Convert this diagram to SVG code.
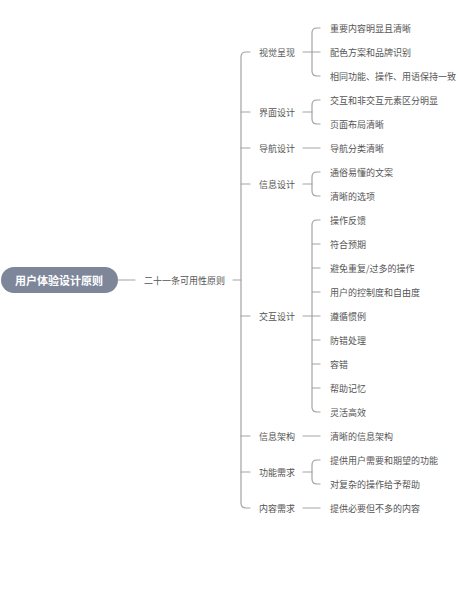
<svg xmlns="http://www.w3.org/2000/svg" width="458" height="600" viewBox="0 0 458 600">
<style>
.t{font-family:"Noto Sans CJK SC","Noto Sans",sans-serif;font-size:9px;fill:#555;dominant-baseline:central}
.r{font-family:"Noto Sans CJK SC","Noto Sans",sans-serif;font-size:11px;font-weight:bold;fill:#fff;dominant-baseline:central;text-anchor:middle}
.c{fill:none;stroke:#a3a3a3;stroke-width:1.2;stroke-linecap:round}
</style>
<rect width="458" height="600" fill="#fff"/>
<g id="connectors">
<path class="c" d="M118,280 H135"/>
<path class="c" d="M233,280 H241"/>
<path class="c" d="M250,52 H246 Q241,52 241,57 V503 Q241,508 246,508 H250"/>
<path class="c" d="M241,112 H250 M241,148 H250 M241,184 H250 M241,316 H250 M241,436 H250 M241,472 H250"/>
<!-- 视觉呈现 -->
<path class="c" d="M303,52 H312"/>
<path class="c" d="M320,28 H317 Q312,28 312,33 V71 Q312,76 317,76 H320 M312,52 H320"/>
<!-- 界面设计 -->
<path class="c" d="M303,112 H312"/>
<path class="c" d="M320,100 H317 Q312,100 312,105 V119 Q312,124 317,124 H320"/>
<!-- 导航设计 -->
<path class="c" d="M303,148 H320"/>
<!-- 信息设计 -->
<path class="c" d="M303,184 H312"/>
<path class="c" d="M320,172 H317 Q312,172 312,177 V191 Q312,196 317,196 H320"/>
<!-- 交互设计 -->
<path class="c" d="M303,316 H312"/>
<path class="c" d="M320,220 H317 Q312,220 312,225 V407 Q312,412 317,412 H320 M312,244 H320 M312,268 H320 M312,292 H320 M312,316 H320 M312,340 H320 M312,364 H320 M312,388 H320"/>
<!-- 信息架构 -->
<path class="c" d="M303,436 H320"/>
<!-- 功能需求 -->
<path class="c" d="M303,472 H312"/>
<path class="c" d="M320,460 H317 Q312,460 312,465 V479 Q312,484 317,484 H320"/>
<!-- 内容需求 -->
<path class="c" d="M303,508 H320"/>
</g>
<g id="root"><rect x="1" y="267" width="117" height="26" rx="13" fill="#7d8799"/><text class="r" x="59" y="280">用户体验设计原则</text></g>
<g id="n1"><text class="t" x="144" y="280">二十一条可用性原则</text></g>
<g id="v"><text class="t" x="259" y="52">视觉呈现</text></g>
<g id="v1"><text class="t" x="330" y="28">重要内容明显且清晰</text></g>
<g id="v2"><text class="t" x="330" y="52">配色方案和品牌识别</text></g>
<g id="v3"><text class="t" x="330" y="76">相同功能、操作、用语保持一致</text></g>
<g id="j"><text class="t" x="259" y="112">界面设计</text></g>
<g id="j1"><text class="t" x="330" y="100">交互和非交互元素区分明显</text></g>
<g id="j2"><text class="t" x="330" y="124">页面布局清晰</text></g>
<g id="d"><text class="t" x="259" y="148">导航设计</text></g>
<g id="d1"><text class="t" x="330" y="148">导航分类清晰</text></g>
<g id="x"><text class="t" x="259" y="184">信息设计</text></g>
<g id="x1"><text class="t" x="330" y="172">通俗易懂的文案</text></g>
<g id="x2"><text class="t" x="330" y="196">清晰的选项</text></g>
<g id="h"><text class="t" x="259" y="316">交互设计</text></g>
<g id="h1"><text class="t" x="330" y="220">操作反馈</text></g>
<g id="h2"><text class="t" x="330" y="244">符合预期</text></g>
<g id="h3"><text class="t" x="330" y="268">避免重复/过多的操作</text></g>
<g id="h4"><text class="t" x="330" y="292">用户的控制度和自由度</text></g>
<g id="h5"><text class="t" x="330" y="316">遵循惯例</text></g>
<g id="h6"><text class="t" x="330" y="340">防错处理</text></g>
<g id="h7"><text class="t" x="330" y="364">容错</text></g>
<g id="h8"><text class="t" x="330" y="388">帮助记忆</text></g>
<g id="h9"><text class="t" x="330" y="412">灵活高效</text></g>
<g id="a"><text class="t" x="259" y="436">信息架构</text></g>
<g id="a1"><text class="t" x="330" y="436">清晰的信息架构</text></g>
<g id="g"><text class="t" x="259" y="472">功能需求</text></g>
<g id="g1"><text class="t" x="330" y="460">提供用户需要和期望的功能</text></g>
<g id="g2"><text class="t" x="330" y="484">对复杂的操作给予帮助</text></g>
<g id="n"><text class="t" x="259" y="508">内容需求</text></g>
<g id="n2"><text class="t" x="330" y="508">提供必要但不多的内容</text></g>
</svg>
